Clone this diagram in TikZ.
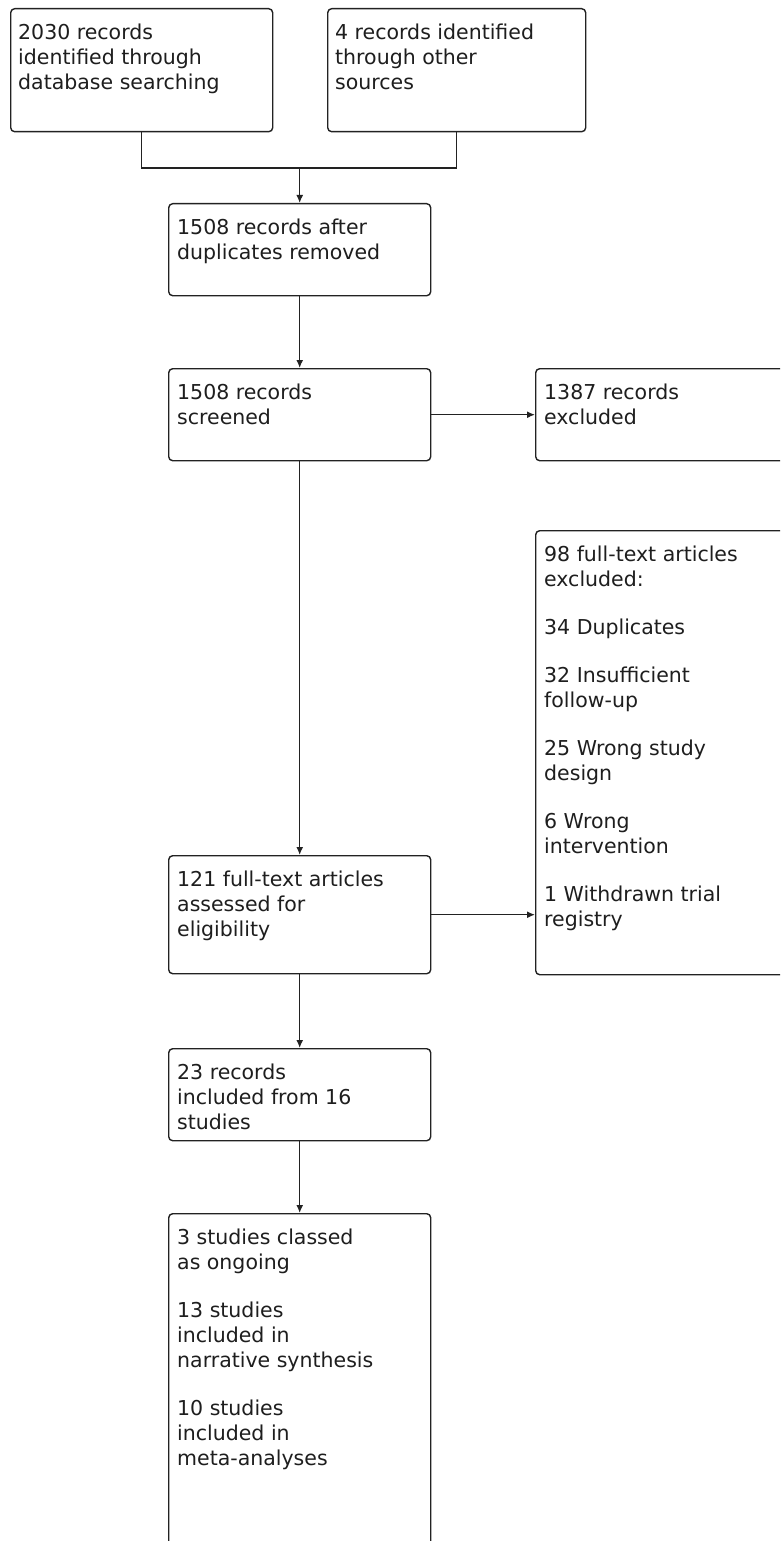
\documentclass[tikz,border=0pt]{standalone}
\usepackage{fontspec}
\setmainfont{DejaVu Sans}
\usetikzlibrary{arrows.meta}
\definecolor{linec}{HTML}{222222}
\definecolor{textc}{HTML}{1E1E1E}
\tikzset{
  box/.style={draw=linec, line width=1.4pt, rounded corners=4pt, inner sep=0pt, anchor=north west, fill=white},
  txt/.style={anchor=north west, inner sep=0pt, align=left, text=textc, font=\fontsize{20.5}{25}\selectfont},
  arr/.style={draw=linec, line width=1.4pt, -{Latex[length=8pt,width=7pt]}},
  ln/.style={draw=linec, line width=1.4pt}
}
\begin{document}
\begin{tikzpicture}[x=1pt,y=-1pt]
\useasboundingbox (0,0) rectangle (780,1541);
\clip (0,0) rectangle (780,1541);
% boxes
\node[box, minimum width=262pt, minimum height=123pt] (b1) at (10,8) {};
\node[box, minimum width=258pt, minimum height=123pt] (b2) at (327,8) {};
\node[box, minimum width=262pt, minimum height=92pt] (b3) at (168,203) {};
\node[box, minimum width=262pt, minimum height=92pt] (b4) at (168,368) {};
\node[box, minimum width=260pt, minimum height=92pt] (b5) at (535,368) {};
\node[box, minimum width=260pt, minimum height=444pt] (b6) at (535,530) {};
\node[box, minimum width=262pt, minimum height=118pt] (b7) at (168,855) {};
\node[box, minimum width=262pt, minimum height=92pt] (b8) at (168,1048) {};
\node[box, minimum width=262pt, minimum height=360pt] (b9) at (168,1213) {};
% texts
\node[txt] (t1) at ([shift={(8pt,-13.5pt)}]b1.north west) {\strut 2030 records\\identified through\\database searching};
\node[txt] (t2) at ([shift={(8pt,-13.5pt)}]b2.north west) {\strut 4 records identified\\through other\\sources};
\node[txt] (t3) at ([shift={(9pt,-13.5pt)}]b3.north west) {\strut 1508 records after\\duplicates removed};
\node[txt] (t4) at ([shift={(9pt,-13.5pt)}]b4.north west) {\strut 1508 records\\screened};
\node[txt] (t5) at ([shift={(9pt,-13.5pt)}]b5.north west) {\strut 1387 records\\excluded};
\node[txt] (t6) at ([shift={(9pt,-13.5pt)}]b6.north west) {\strut 98 full-text articles\\excluded:\\[23pt]34 Duplicates\\[23pt]32 Insufficient\\follow-up\\[23pt]25 Wrong study\\design\\[23pt]6 Wrong\\intervention\\[23pt]1 Withdrawn trial\\registry};
\node[txt] (t7) at ([shift={(9pt,-13.5pt)}]b7.north west) {\strut 121 full-text articles\\assessed for\\eligibility};
\node[txt] (t8) at ([shift={(9pt,-13.5pt)}]b8.north west) {\strut 23 records\\included from 16\\studies};
\node[txt] (t9) at ([shift={(9pt,-13.5pt)}]b9.north west) {\strut 3 studies classed\\as ongoing\\[23pt]13 studies\\included in\\narrative synthesis\\[23pt]10 studies\\included in\\meta-analyses};
% connectors
\coordinate (m) at (b3.north |- 0,168);
\draw[ln] (b1.south) |- (m) -| (b2.south);
\draw[arr] (m) -- (b3.north);
\draw[arr] (b3.south) -- (b4.north);
\draw[arr] (b4.east) -- (b5.west);
\draw[arr] (b4.south) -- (b7.north);
\draw[arr] (b7.east) -- (b6.west |- b7.east);
\draw[arr] (b7.south) -- (b8.north);
\draw[arr] (b8.south) -- (b9.north);
\end{tikzpicture}
\end{document}
